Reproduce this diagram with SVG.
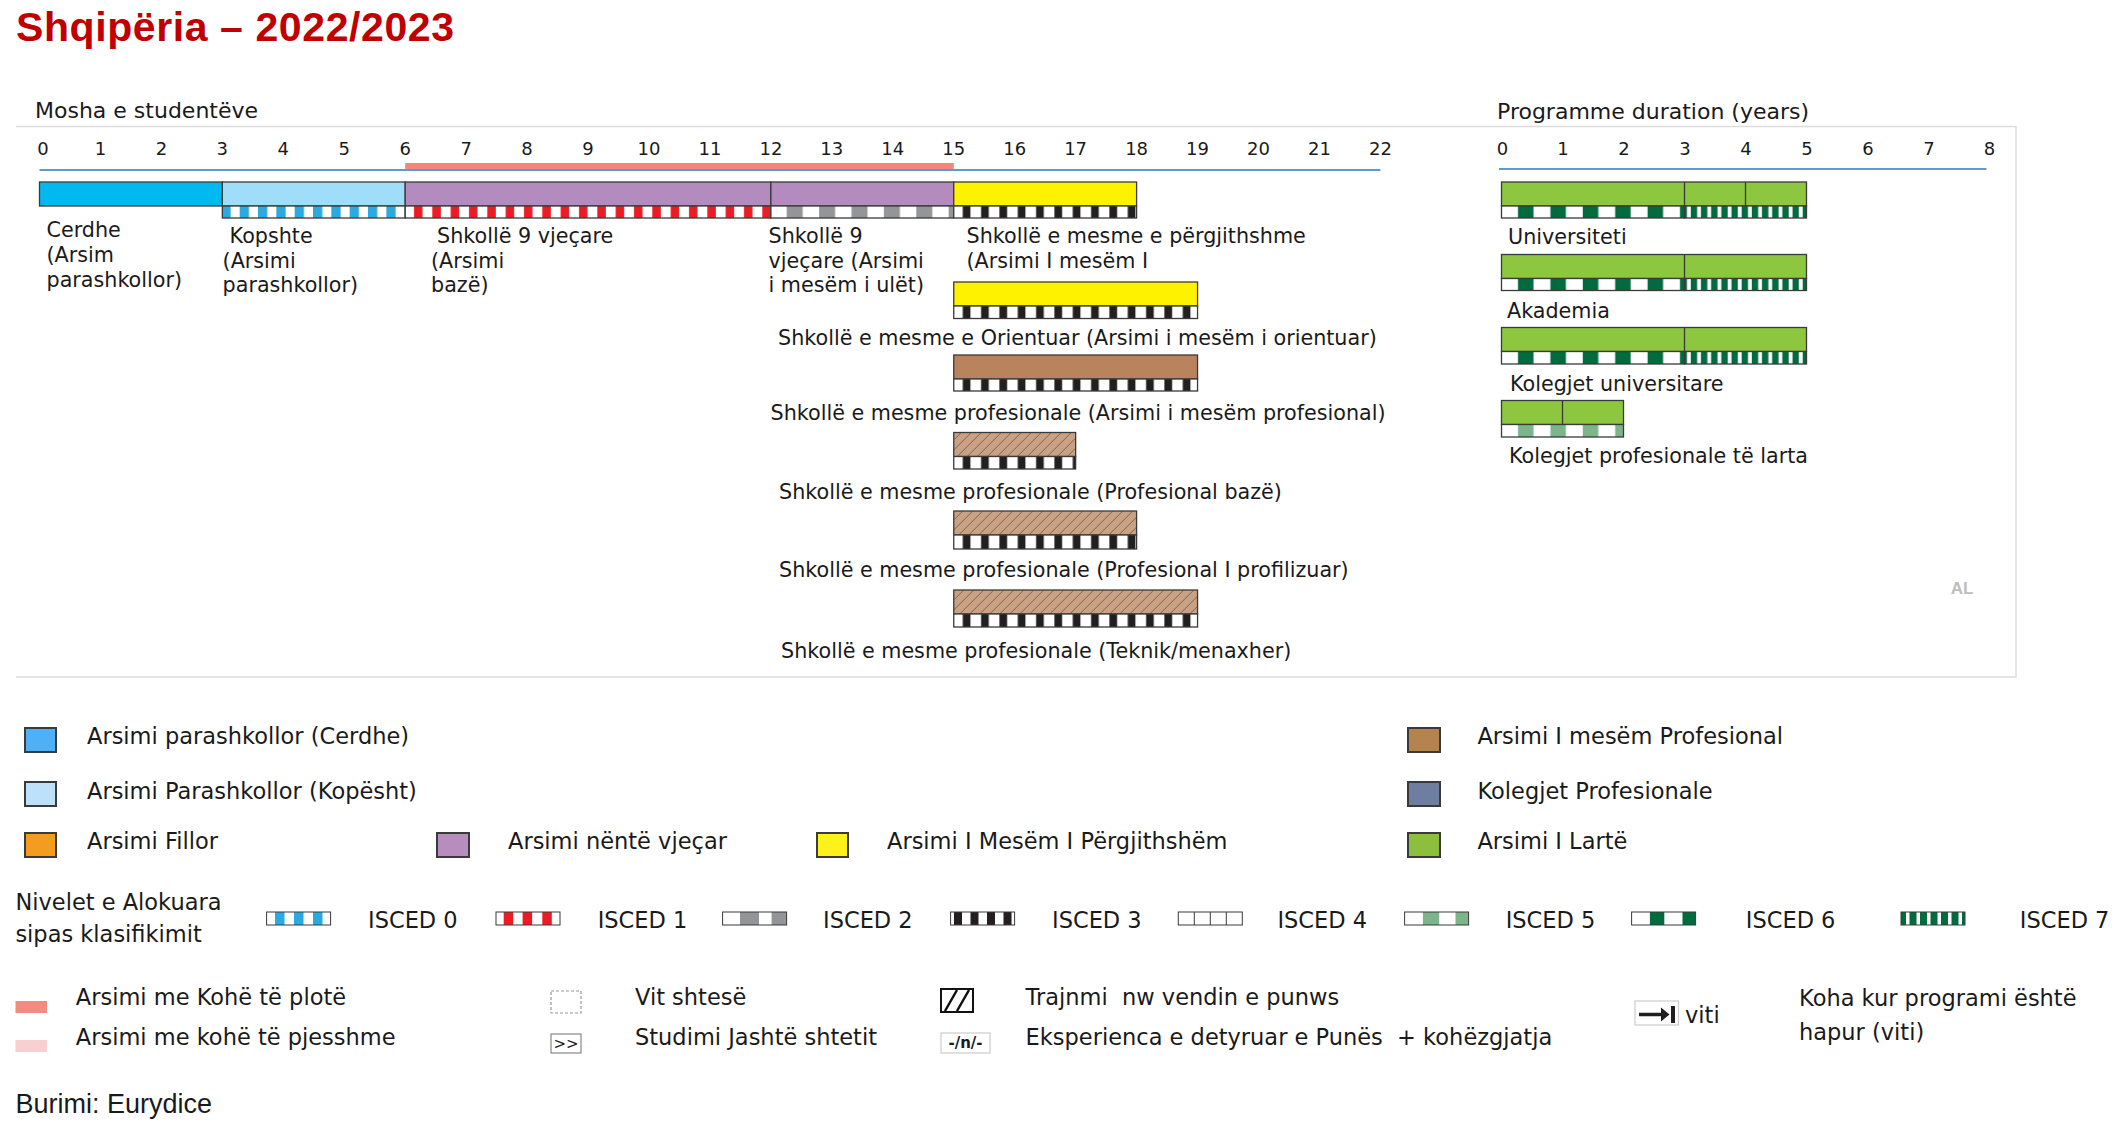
<svg xmlns="http://www.w3.org/2000/svg" width="2123" height="1128" viewBox="0 0 2123 1128">
<style>
text{font-family:"DejaVu Sans",Verdana,sans-serif;fill:#1a1a1a}
.ttl{font-family:"Liberation Sans",Arial,sans-serif;font-weight:bold;font-size:41px;fill:#C00000}
.hd{font-size:22px}
.ax{font-size:18px;text-anchor:middle}
.lb{font-size:20.7px}
.lg{font-size:22.5px}
.src{font-family:"Liberation Sans",Arial,sans-serif;font-size:27px}
.bar{stroke:#3a3a3a;stroke-width:1.3}
.div{stroke:#3a3a3a;stroke-width:1.3}
.sq{stroke:#3a3a3a;stroke-width:2}
.sw{stroke:#3a3a3a;stroke-width:1}
.pre{white-space:pre}
.panel{stroke:#dcdcdc;stroke-width:1.5;fill:none}
</style>
<defs>
<pattern id="p0" patternUnits="userSpaceOnUse" x="221.35" y="0" width="18.333" height="20"><rect width="18.333" height="20" fill="#fff"/><rect width="9.3" height="20" fill="#29AAE1"/></pattern>
<pattern id="p1" patternUnits="userSpaceOnUse" x="405.2" y="0" width="18.333" height="20"><rect width="18.333" height="20" fill="#fff"/><rect x="8.8" width="8.5" height="20" fill="#ED1C24"/></pattern>
<pattern id="p2" patternUnits="userSpaceOnUse" x="770.9" y="0" width="32.4" height="20"><rect width="32.4" height="20" fill="#fff"/><rect x="15.8" width="16" height="20" fill="#939598"/></pattern>
<pattern id="p3" patternUnits="userSpaceOnUse" x="953.75" y="0" width="18.333" height="20"><rect width="18.333" height="20" fill="#fff"/><rect x="9" width="7.7" height="20" fill="#231F20"/></pattern>
<pattern id="p5" patternUnits="userSpaceOnUse" x="1501.5" y="0" width="32.4" height="20"><rect width="32.4" height="20" fill="#fff"/><rect x="16.5" width="15.5" height="20" fill="#7DB58A"/></pattern>
<pattern id="p6" patternUnits="userSpaceOnUse" x="1501.5" y="0" width="32.4" height="20"><rect width="32.4" height="20" fill="#fff"/><rect x="16.5" width="15.5" height="20" fill="#006B3F"/></pattern>
<pattern id="p7" patternUnits="userSpaceOnUse" x="1684.5" y="0" width="10.17" height="20"><rect width="10.17" height="20" fill="#006B3F"/><rect x="2.5" width="3.8" height="20" fill="#fff"/></pattern>
<pattern id="hatch" patternUnits="userSpaceOnUse" x="953.75" y="0" width="10" height="10"><rect width="10" height="10" fill="#C9A184"/><path d="M-1,1 L1,-1 M0,10 L10,0 M9,11 L11,9" stroke="#7d5c45" stroke-width="0.9"/></pattern>
</defs>
<rect width="2123" height="1128" fill="#fff"/>

<text class="ttl" x="16" y="41" textLength="438">Shqipëria – 2022/2023</text>

<g id="panel">
<path class="panel" d="M16,126.5 H2016 V677 H16"/>
<text class="hd" x="35" y="118">Mosha e studentëve</text>
<text class="hd" x="1497" y="119">Programme duration (years)</text>
</g>

<g id="axes">
<g class="ax">
<text class="ax" x="43" y="155">0</text>
<text class="ax" x="100.5" y="155">1</text>
<text class="ax" x="161.4" y="155">2</text>
<text class="ax" x="222.3" y="155">3</text>
<text class="ax" x="283.3" y="155">4</text>
<text class="ax" x="344.3" y="155">5</text>
<text class="ax" x="405.2" y="155">6</text>
<text class="ax" x="466.2" y="155">7</text>
<text class="ax" x="527.1" y="155">8</text>
<text class="ax" x="588" y="155">9</text>
<text class="ax" x="649" y="155">10</text>
<text class="ax" x="710" y="155">11</text>
<text class="ax" x="770.9" y="155">12</text>
<text class="ax" x="831.8" y="155">13</text>
<text class="ax" x="892.8" y="155">14</text>
<text class="ax" x="953.75" y="155">15</text>
<text class="ax" x="1014.7" y="155">16</text>
<text class="ax" x="1075.6" y="155">17</text>
<text class="ax" x="1136.6" y="155">18</text>
<text class="ax" x="1197.5" y="155">19</text>
<text class="ax" x="1258.5" y="155">20</text>
<text class="ax" x="1319.4" y="155">21</text>
<text class="ax" x="1380.4" y="155">22</text>
<text class="ax" x="1502.4" y="155">0</text>
<text class="ax" x="1563" y="155">1</text>
<text class="ax" x="1624" y="155">2</text>
<text class="ax" x="1685" y="155">3</text>
<text class="ax" x="1746" y="155">4</text>
<text class="ax" x="1807" y="155">5</text>
<text class="ax" x="1868" y="155">6</text>
<text class="ax" x="1929" y="155">7</text>
<text class="ax" x="1989.5" y="155">8</text>
</g>
<rect x="405.2" y="163" width="548.55" height="6" fill="#F4847C"/>
<line x1="39.5" y1="170" x2="1380.4" y2="170" stroke="#5B9BD5" stroke-width="2"/>
<line x1="1499" y1="169" x2="1986.5" y2="169" stroke="#5B9BD5" stroke-width="2"/>
</g>

<g id="cerdhe">
<rect class="bar" x="39.5" y="182" width="182.85" height="24" fill="#00B9F1"/>
<text class="lb" x="46.5" y="237">Cerdhe</text>
<text class="lb" x="46.5" y="262">(Arsim</text>
<text class="lb" x="46.5" y="287">parashkollor)</text>
</g>

<g id="kopshte">
<rect class="bar" x="222.35" y="182" width="182.85" height="24" fill="#A0DDF8"/>
<rect class="bar" x="222.35" y="206" width="182.85" height="12" fill="url(#p0)"/>
<text class="lb" x="229.6" y="243">Kopshte</text>
<text class="lb" x="222.6" y="267.7">(Arsimi</text>
<text class="lb" x="222.6" y="292.3">parashkollor)</text>
</g>

<g id="shkolle9-baze">
<rect class="bar" x="405.2" y="182" width="365.7" height="24" fill="#B38BBE"/>
<rect class="bar" x="405.2" y="206" width="365.7" height="12" fill="url(#p1)"/>
<text class="lb" x="437" y="243">Shkollë 9 vjeçare</text>
<text class="lb" x="431" y="267.7">(Arsimi</text>
<text class="lb" x="431" y="292.3">bazë)</text>
</g>

<g id="shkolle9-ulet">
<rect class="bar" x="770.9" y="182" width="182.85" height="24" fill="#B38BBE"/>
<rect class="bar" x="770.9" y="206" width="182.85" height="12" fill="url(#p2)"/>
<text class="lb" x="768.5" y="243">Shkollë 9</text>
<text class="lb" x="768.5" y="267.7">vjeçare (Arsimi</text>
<text class="lb" x="768.5" y="292.3">i mesëm i ulët)</text>
</g>

<g id="mesme-pergjithshme">
<rect class="bar" x="953.75" y="182" width="182.85" height="24" fill="#FFF200"/>
<rect class="bar" x="953.75" y="206" width="182.85" height="12" fill="url(#p3)"/>
<text class="lb" x="966.5" y="243">Shkollë e mesme e përgjithshme</text>
<text class="lb" x="966.5" y="267.7">(Arsimi I mesëm I</text>
</g>

<g id="mesme-orientuar">
<rect class="bar" x="953.75" y="282" width="243.8" height="24" fill="#FFF200"/>
<rect class="bar" x="953.75" y="306" width="243.8" height="12.5" fill="url(#p3)"/>
<text class="lb" x="778" y="345">Shkollë e mesme e Orientuar (Arsimi i mesëm i orientuar)</text>
</g>

<g id="mesme-profesionale">
<rect class="bar" x="953.75" y="355" width="243.8" height="24" fill="#B9835E"/>
<rect class="bar" x="953.75" y="379" width="243.8" height="12" fill="url(#p3)"/>
<text class="lb" x="770.5" y="420">Shkollë e mesme profesionale (Arsimi i mesëm profesional)</text>
</g>

<g id="profesional-baze">
<rect class="bar" x="953.75" y="432.5" width="121.9" height="24" fill="url(#hatch)"/>
<rect class="bar" x="953.75" y="456.5" width="121.9" height="12.5" fill="url(#p3)"/>
<text class="lb" x="779" y="499">Shkollë e mesme profesionale (Profesional bazë)</text>
</g>

<g id="profesional-profilizuar">
<rect class="bar" x="953.75" y="511" width="182.85" height="24" fill="url(#hatch)"/>
<rect class="bar" x="953.75" y="535" width="182.85" height="14" fill="url(#p3)"/>
<text class="lb" x="779" y="577">Shkollë e mesme profesionale (Profesional I profilizuar)</text>
</g>

<g id="teknik-menaxher">
<rect class="bar" x="953.75" y="590" width="243.8" height="24" fill="url(#hatch)"/>
<rect class="bar" x="953.75" y="614" width="243.8" height="13" fill="url(#p3)"/>
<text class="lb" x="781" y="658">Shkollë e mesme profesionale (Teknik/menaxher)</text>
</g>

<g id="universiteti">
<rect class="bar" x="1501.5" y="182" width="305" height="24" fill="#8DC63F"/>
<line class="div" x1="1684.5" y1="182" x2="1684.5" y2="206"/>
<line class="div" x1="1745.5" y1="182" x2="1745.5" y2="206"/>
<rect class="bar" x="1501.5" y="206" width="183" height="12" fill="url(#p6)"/>
<rect class="bar" x="1684.5" y="206" width="122" height="12" fill="url(#p7)"/>
<text class="lb" x="1508" y="244">Universiteti</text>
</g>

<g id="akademia">
<rect class="bar" x="1501.5" y="254.5" width="305" height="24" fill="#8DC63F"/>
<line class="div" x1="1684.5" y1="254.5" x2="1684.5" y2="278.5"/>
<rect class="bar" x="1501.5" y="278.5" width="183" height="12" fill="url(#p6)"/>
<rect class="bar" x="1684.5" y="278.5" width="122" height="12" fill="url(#p7)"/>
<text class="lb" x="1507" y="317.7">Akademia</text>
</g>

<g id="kolegjet-universitare">
<rect class="bar" x="1501.5" y="327.5" width="305" height="24" fill="#8DC63F"/>
<line class="div" x1="1684.5" y1="327.5" x2="1684.5" y2="351.5"/>
<rect class="bar" x="1501.5" y="351.5" width="183" height="12.5" fill="url(#p6)"/>
<rect class="bar" x="1684.5" y="351.5" width="122" height="12.5" fill="url(#p7)"/>
<text class="lb" x="1510" y="390.7">Kolegjet universitare</text>
</g>

<g id="kolegjet-profesionale">
<rect class="bar" x="1501.5" y="400.5" width="122" height="24" fill="#8DC63F"/>
<line class="div" x1="1562.5" y1="400.5" x2="1562.5" y2="424.5"/>
<rect class="bar" x="1501.5" y="424.5" width="122" height="12.5" fill="url(#p5)"/>
<text class="lb" x="1509" y="463.3">Kolegjet profesionale të larta</text>
</g>

<text x="1962" y="594" text-anchor="middle" style="font-family:'Liberation Sans',Arial,sans-serif;font-weight:bold;font-size:17px;fill:#BDBDBD">AL</text>

<g id="legend-colours">
<rect class="sq" x="25" y="728" width="31" height="24" fill="#4FB0F8"/>
<text class="lg" x="87" y="744.3">Arsimi parashkollor (Cerdhe)</text>
<rect class="sq" x="25" y="782" width="31" height="24" fill="#BDE0FB"/>
<text class="lg" x="87" y="799">Arsimi Parashkollor (Kopësht)</text>
<rect class="sq" x="25" y="833" width="31" height="24" fill="#F39C1F"/>
<text class="lg" x="87" y="849.3">Arsimi Fillor</text>
<rect class="sq" x="437" y="833" width="32" height="24" fill="#B68DBD"/>
<text class="lg" x="508" y="849.3">Arsimi nëntë vjeçar</text>
<rect class="sq" x="817" y="833" width="31" height="24" fill="#FFF21A"/>
<text class="lg" x="887" y="849.3">Arsimi I Mesëm I Përgjithshëm</text>
<rect class="sq" x="1408" y="728" width="32" height="24" fill="#B5834F"/>
<text class="lg" x="1477.4" y="744.3">Arsimi I mesëm Profesional</text>
<rect class="sq" x="1408" y="782" width="32" height="24" fill="#6E7EA0"/>
<text class="lg" x="1477.4" y="799">Kolegjet Profesionale</text>
<rect class="sq" x="1408" y="833" width="32" height="24" fill="#8CBF3E"/>
<text class="lg" x="1477.4" y="849.3">Arsimi I Lartë</text>
</g>

<g id="legend-isced">
<text class="lg" x="15.4" y="910">Nivelet e Alokuara</text>
<text class="lg" x="15.4" y="941.7">sipas klasifikimit</text>

<g id="isced0">
<rect x="266.6" y="912" width="64" height="13" fill="#fff"/>
<rect x="275" y="912" width="9.5" height="13" fill="#29AAE1"/>
<rect x="294" y="912" width="9.5" height="13" fill="#29AAE1"/>
<rect x="313" y="912" width="9.5" height="13" fill="#29AAE1"/>
<rect class="sw" x="266.6" y="912" width="64" height="13" fill="none"/>
<text class="lg" x="368" y="927.5">ISCED 0</text>
</g>
<g id="isced1">
<rect x="496" y="912" width="64" height="13" fill="#fff"/>
<rect x="503.7" y="912" width="9.5" height="13" fill="#ED1C24"/>
<rect x="522.6" y="912" width="9.5" height="13" fill="#ED1C24"/>
<rect x="542.3" y="912" width="9.5" height="13" fill="#ED1C24"/>
<rect class="sw" x="496" y="912" width="64" height="13" fill="none"/>
<text class="lg" x="597.7" y="927.5">ISCED 1</text>
</g>
<g id="isced2">
<rect x="722.6" y="912" width="64" height="13" fill="#fff"/>
<rect x="740" y="912" width="19" height="13" fill="#939598"/>
<rect x="771.6" y="912" width="15" height="13" fill="#939598"/>
<rect class="sw" x="722.6" y="912" width="64" height="13" fill="none"/>
<text class="lg" x="823" y="927.5">ISCED 2</text>
</g>
<g id="isced3">
<rect x="950.6" y="912" width="64" height="13" fill="#fff"/>
<rect x="954" y="912" width="8" height="13" fill="#231F20"/>
<rect x="970.5" y="912" width="8" height="13" fill="#231F20"/>
<rect x="987" y="912" width="8" height="13" fill="#231F20"/>
<rect x="1003.5" y="912" width="8" height="13" fill="#231F20"/>
<rect class="sw" x="950.6" y="912" width="64" height="13" fill="none"/>
<text class="lg" x="1052" y="927.5">ISCED 3</text>
</g>
<g id="isced4">
<rect class="sw" x="1178.3" y="912" width="64" height="13" fill="#fff"/>
<path class="sw" d="M1194.3,912 V925 M1210.3,912 V925 M1226.3,912 V925"/>
<text class="lg" x="1277.4" y="927.5">ISCED 4</text>
</g>
<g id="isced5">
<rect x="1404.6" y="912" width="64" height="13" fill="#fff"/>
<rect x="1422.9" y="912" width="16.3" height="13" fill="#7DB58A"/>
<rect x="1455.5" y="912" width="13.1" height="13" fill="#7DB58A"/>
<rect class="sw" x="1404.6" y="912" width="64" height="13" fill="none"/>
<text class="lg" x="1505.7" y="927.5">ISCED 5</text>
</g>
<g id="isced6">
<rect x="1631.6" y="912" width="64" height="13" fill="#fff"/>
<rect x="1649.9" y="912" width="14.4" height="13" fill="#006B3F"/>
<rect x="1682.5" y="912" width="13.1" height="13" fill="#006B3F"/>
<rect class="sw" x="1631.6" y="912" width="64" height="13" fill="none"/>
<text class="lg" x="1745.8" y="927.5">ISCED 6</text>
</g>
<g id="isced7">
<rect x="1901" y="912" width="64" height="13" fill="#006B3F"/>
<rect x="1906" y="912" width="3.5" height="13" fill="#fff"/>
<rect x="1916.5" y="912" width="3.5" height="13" fill="#fff"/>
<rect x="1927" y="912" width="3.5" height="13" fill="#fff"/>
<rect x="1937.5" y="912" width="3.5" height="13" fill="#fff"/>
<rect x="1948" y="912" width="3.5" height="13" fill="#fff"/>
<rect x="1958.5" y="912" width="3.5" height="13" fill="#fff"/>
<rect class="sw" x="1901" y="912" width="64" height="13" fill="none"/>
<text class="lg" x="2019.8" y="927.5">ISCED 7</text>
</g>
</g>

<g id="legend-other">
<rect x="15.5" y="1001" width="31.5" height="12" fill="#F28B82"/>
<text class="lg" x="75.8" y="1005">Arsimi me Kohë të plotë</text>
<rect x="15.5" y="1040" width="31.5" height="12" fill="#F9D0D0"/>
<text class="lg" x="75.8" y="1045">Arsimi me kohë të pjesshme</text>

<rect x="551" y="991" width="30" height="22" fill="none" stroke="#999" stroke-width="1.2" stroke-dasharray="3 2"/>
<text class="lg" x="635" y="1005">Vit shtesë</text>
<rect x="551" y="1034" width="30" height="19" fill="#fff" stroke="#888" stroke-width="1.2"/>
<text x="566" y="1049" text-anchor="middle" style="font-size:15px">&gt;&gt;</text>
<text class="lg" x="635" y="1045">Studimi Jashtë shtetit</text>

<rect x="941" y="989" width="32" height="23" fill="#fff" stroke="#111" stroke-width="2"/>
<path d="M945,1011 L957,990 M957,1011 L969,990" stroke="#111" stroke-width="2.5"/>
<text class="lg pre" x="1025.6" y="1005">Trajnmi  nw vendin e punws</text>
<rect x="941" y="1033" width="49" height="20" fill="#fff" stroke="#ccc" stroke-width="1.2"/>
<text x="965.5" y="1048" text-anchor="middle" style="font-size:15px;font-weight:bold">-/n/-</text>
<text class="lg pre" x="1025.6" y="1045">Eksperienca e detyruar e Punës  + kohëzgjatja</text>

<rect x="1635" y="1001" width="43.5" height="24" fill="#fff" stroke="#ccc" stroke-width="1.2"/>
<line x1="1639" y1="1014.5" x2="1663" y2="1014.5" stroke="#231F20" stroke-width="3.5"/>
<polygon points="1661,1007.5 1669.5,1014.5 1661,1021.5" fill="#231F20"/>
<rect x="1671" y="1006" width="4" height="17" fill="#231F20"/>
<text class="lg" x="1685" y="1023">viti</text>
<text class="lg" x="1799" y="1006">Koha kur programi është</text>
<text class="lg" x="1799" y="1040">hapur (viti)</text>

<text class="src" x="15.4" y="1113">Burimi: Eurydice</text>
</g>
</svg>
